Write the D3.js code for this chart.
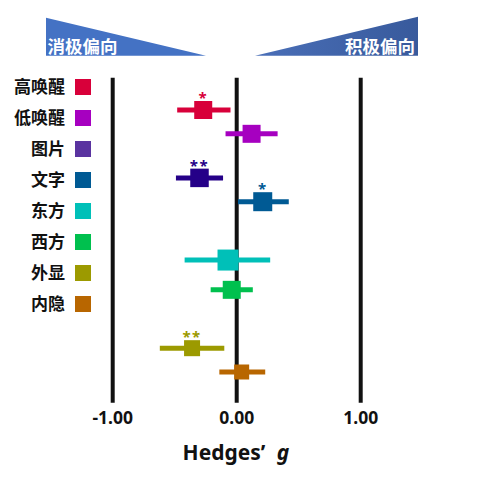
<!DOCTYPE html>
<html>
<head>
<meta charset="utf-8">
<script src="https://cdn.jsdelivr.net/npm/d3@7"></script>
<style>
  body { margin: 0; background: #fff; }
  svg { display: block; font-family: "Noto Sans CJK SC", "Noto Sans", sans-serif; }
</style>
</head>
<body>
<svg id="chart"></svg>
<script>
// data
const labels = ["高唤醒", "低唤醒", "图片", "文字", "东方", "西方", "外显", "内隐"];
const effect = [-0.27, 0.12, -0.30, 0.21, -0.07, -0.04, -0.36, 0.04];
const lower = [-0.48, -0.09, -0.49, 0.01, -0.42, -0.21, -0.62, -0.14];
const upper = [-0.05, 0.33, -0.11, 0.42, 0.27, 0.13, -0.10, 0.23];
const stars = ["*", "", "**", "*", "", "", "**", ""];
const weight = [18, 18, 18.5, 19, 21, 18, 16, 15];
const row = [0, 1, 2.85, 3.85, 6.3, 7.55, 10, 11];
const refLines = [-1, 0, 1];
const tickLabels = ["-1.00", "0.00", "1.00"];
const legendColors = ["#d8003a", "#a600c0", "#5a33a0", "#005a94", "#00c0b8", "#00c04e", "#9c9a00", "#b86600"];
const markColors = ["#d8003a", "#a600c0", "#250088", "#005a94", "#00c0b8", "#00c04e", "#9c9a00", "#b86600"];

const width = 479, height = 477;
const svg = d3.select("#chart").attr("width", width).attr("height", height);

// scales
const x = d3.scaleLinear().domain([-1, 1]).range([112.7, 360.7]);
const y = d3.scaleLinear().domain([0, 11]).range([110, 372]);
const size = d3.scaleLinear().domain([0, 21]).range([0, 21]);
const legendY = d3.scalePoint().domain(labels).range([87, 304]);

const data = labels.map((name, i) => ({
  name, g: effect[i], lo: lower[i], hi: upper[i], star: stars[i],
  w: weight[i], row: row[i], color: markColors[i]
}));

// banner triangles
const defs = svg.append("defs");
const grad = defs.append("linearGradient").attr("id", "rightGrad")
  .attr("x1", "0%").attr("x2", "100%");
grad.append("stop").attr("offset", "0%").attr("stop-color", "#4a6fb8");
grad.append("stop").attr("offset", "100%").attr("stop-color", "#385a9c");

svg.append("polygon")
  .attr("points", "46,17.7 46,55.7 206,55.7")
  .attr("fill", "#4472c4");
svg.append("polygon")
  .attr("points", "418,16.7 418,55.7 255,55.7")
  .attr("fill", "url(#rightGrad)");

svg.append("text").attr("x", 47.5).attr("y", 52.5)
  .attr("fill", "#fff").attr("font-size", 17.5).attr("font-weight", 700)
  .text("消极偏向");
svg.append("text").attr("x", 415).attr("y", 52.5)
  .attr("text-anchor", "end")
  .attr("fill", "#fff").attr("font-size", 17.5).attr("font-weight", 700)
  .text("积极偏向");

// legend
const legend = svg.append("g");
legend.selectAll("text").data(labels).join("text")
  .attr("x", 65)
  .attr("y", d => legendY(d) + 6)
  .attr("text-anchor", "end")
  .attr("font-size", 17)
  .attr("font-weight", 700)
  .attr("fill", "#111")
  .text(d => d);
legend.selectAll("rect").data(labels).join("rect")
  .attr("x", 75)
  .attr("y", d => legendY(d) - 8)
  .attr("width", 16).attr("height", 16)
  .attr("fill", (d, i) => legendColors[i]);

// reference lines
svg.append("g").selectAll("line").data(refLines).join("line")
  .attr("x1", d => x(d)).attr("x2", d => x(d))
  .attr("y1", 77.7).attr("y2", 402.7)
  .attr("stroke", "#111").attr("stroke-width", 4);

// tick labels
svg.append("g").selectAll("text").data(refLines).join("text")
  .attr("x", d => x(d))
  .attr("y", 424)
  .attr("text-anchor", "middle")
  .attr("font-family", "'Noto Sans', sans-serif")
  .attr("font-size", 17.5)
  .attr("font-weight", 700)
  .attr("fill", "#111")
  .text((d, i) => tickLabels[i]);

// axis title
const title = svg.append("text")
  .attr("x", 236).attr("y", 460)
  .attr("text-anchor", "middle")
  .attr("font-family", "'Noto Sans', sans-serif")
  .attr("font-size", 21)
  .attr("font-weight", 700)
  .attr("fill", "#111");
title.append("tspan").text("Hedges’ ");
title.append("tspan").attr("font-style", "italic").attr("dx", 6).text("g");

// forest marks
const marks = svg.append("g").selectAll("g").data(data).join("g");

marks.append("line")
  .attr("x1", d => x(d.lo)).attr("x2", d => x(d.hi))
  .attr("y1", d => y(d.row)).attr("y2", d => y(d.row))
  .attr("stroke", d => d.color).attr("stroke-width", 5);

marks.append("rect")
  .attr("x", d => x(d.g) - size(d.w) / 2)
  .attr("y", d => y(d.row) - size(d.w) / 2)
  .attr("width", d => size(d.w))
  .attr("height", d => size(d.w))
  .attr("fill", d => d.color);

marks.append("text")
  .attr("x", d => x(d.g))
  .attr("y", d => y(d.row) - size(d.w) / 2 + 2)
  .attr("text-anchor", "middle")
  .attr("font-family", "'Noto Sans', sans-serif")
  .attr("font-size", 15)
  .attr("font-weight", 700)
  .attr("letter-spacing", 1.5)
  .attr("fill", d => d.color)
  .text(d => d.star);
</script>
</body>
</html>
